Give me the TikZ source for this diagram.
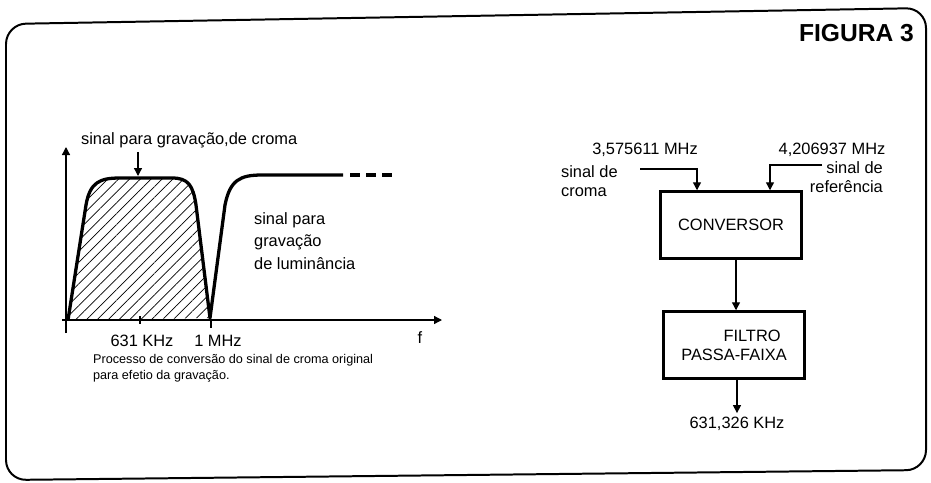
\documentclass[tikz,border=0pt]{standalone}
\usepackage{fontspec}
\setmainfont{Liberation Sans}
\usetikzlibrary{arrows.meta,patterns.meta}

\begin{document}
\begin{tikzpicture}[x=0.3mm,y=-0.3mm,>={Triangle[length=2.4mm,width=2.4mm]},
  font=\fontsize{14}{16}\selectfont,
  moldura/.style={line width=1.7pt},
  bloco/.style={draw,line width=2.4pt,minimum width=42.5mm,minimum height=20mm,align=center},
  curva/.style={line width=2.8pt,line join=round},
  fio/.style={line width=1.1pt}]
  \useasboundingbox (0,0) rectangle (931,482);
  % moldura
  \draw[moldura,rounded corners=6mm] (6,250) -- (6,24) -- (926,8) -- (926,470) -- (6,480) -- cycle;
  \node[font=\fontsize{21}{24}\selectfont\bfseries,anchor=east] (fig) at (918,33) {FIGURA 3};

  % grafico
  \fill[pattern={Lines[angle=45,distance=2.3mm,line width=0.6pt]}]
    (68,320) -- (86,205) .. controls (90,182) and (100,178) .. (120,178) -- (172,178)
    .. controls (188,178) and (193,185) .. (196,205) -- (210,318) -- cycle;
  \draw[fio,->] (66,333) -- (66,147);
  \draw[fio,->] (62,320) -- (442,320);
  \draw[fio] (140,316) -- (140,324);
  \draw[fio] (211,320) -- (211,328);
  \draw[curva] (68,320) -- (86,205) .. controls (90,182) and (100,178) .. (120,178) -- (172,178)
    .. controls (188,178) and (193,185) .. (196,205) -- (210,318) -- (225,205)
    .. controls (230,180) and (240,175) .. (262,175) -- (343,175);
  \draw[curva,dash pattern=on 3mm off 1.8mm] (350,175) -- (392,175);
  \coordinate (topo) at (138,176);
  \node[anchor=west] (croma) at (77,140) {sinal para gravação,de croma};
  \draw[fio,->] (croma.south -| topo) -- (topo);
  \node[anchor=north west,align=left,font=\fontsize{14}{19.5}\selectfont] (lumi) at (250,208)
    {sinal para\\gravação\\de luminância};
  \node (f631) at (142,341) {631 KHz};
  \node (f1m) at (218,341) {1 MHz};
  \node (ef) at (420,338) {f};
  \node[anchor=north west,align=left,font=\fontsize{10.8}{14}\selectfont] (legenda) at (89,350)
    {Processo de conversão do sinal de croma original\\para efetio da gravação.};

  % diagrama de blocos
  \node[bloco] (conv) at (731,225) {CONVERSOR};
  \node[bloco] (filt) at (734,345) {\hspace*{2.2em}FILTRO\\PASSA-FAIXA};
  \node (fc) at (645,150) {3,575611 MHz};
  \node (fr) at (832,150) {4,206937 MHz};
  \node[anchor=west,align=left] (sc) at (557,181) {sinal de\\croma};
  \node[anchor=east,align=right] (sr) at (887,177) {sinal de\\referência};
  \coordinate (inCroma) at (640,169);
  \coordinate (inRef) at (822,165);
  \node (saida) at (737,424) {631,326 KHz};
  \draw[fio,->] (inCroma) -| ([xshift=-10.2mm]conv.north);
  \draw[fio,->] (inRef) -| ([xshift=11.7mm]conv.north);
  \draw[fio,->] ([xshift=1.5mm]conv.south) -- ([xshift=0.6mm]filt.north);
  \draw[fio,->] ([xshift=0.9mm]filt.south) -- (saida.north);
\end{tikzpicture}
\end{document}
